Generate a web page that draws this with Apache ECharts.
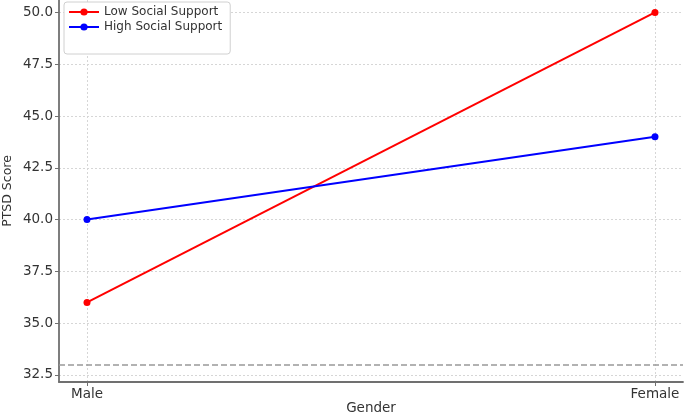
<!DOCTYPE html>
<html><head><meta charset="utf-8">
<script src="https://cdn.jsdelivr.net/npm/echarts@6/dist/echarts.min.js"></script>
<style>html,body{margin:0;padding:0;background:#fff}#c{width:685px;height:414px}</style>
</head><body><div id="c"></div>
<script>
const categories = ['Male', 'Female'];
const lowSupport = [36, 50];
const highSupport = [40, 44];
const referenceLine = 33;
const yTicks = [32.5, 35, 37.5, 40, 42.5, 45, 47.5, 50];
const xTicks = [0, 1];

const chart = echarts.init(document.getElementById('c'), null, {renderer: 'canvas'});
const font = 'DejaVu Sans';
const toPts = arr => arr.map((v, i) => [i, v]);
const gridStyle = {color: '#d6d6d6', type: [2, 2], width: 1};

chart.setOption({
  animation: false,
  backgroundColor: '#fff',
  textStyle: {fontFamily: font},
  grid: {left: 59, right: 2, top: 0, bottom: 32, containLabel: false, outerBoundsMode: 'none'},
  legend: {
    left: 64, top: 2, orient: 'vertical',
    backgroundColor: '#fff', borderColor: '#d0d0d0', borderWidth: 1, borderRadius: 3,
    padding: [3, 8, 20, 4], itemGap: 1, itemWidth: 30, itemHeight: 9,
    textStyle: {fontFamily: font, fontSize: 12, color: '#333', lineHeight: 14},
    data: ['Low Social Support', 'High Social Support']
  },
  xAxis: {
    type: 'value', min: -0.0493, max: 1.0493,
    name: 'Gender', nameLocation: 'middle', nameGap: 19, nameMoveOverlap: false,
    nameTextStyle: {fontFamily: font, fontSize: 13.5, color: '#333'},
    axisLine: {show: true, onZero: false, lineStyle: {color: '#707070', width: 1.8}},
    axisTick: {show: true, length: 4, customValues: xTicks, lineStyle: {color: '#707070'}},
    axisLabel: {customValues: xTicks, margin: 5, fontFamily: font, fontSize: 13.5, color: '#333',
      formatter: v => categories[Math.round(v)]},
    splitLine: {show: true, customValues: xTicks, lineStyle: gridStyle}
  },
  yAxis: {
    type: 'value', min: 32.16, max: 50.6,
    name: 'PTSD Score', nameLocation: 'middle', nameGap: 45, nameRotate: 90, nameMoveOverlap: false,
    nameTextStyle: {fontFamily: font, fontSize: 12.5, color: '#333'},
    axisLine: {show: true, onZero: false, lineStyle: {color: '#707070', width: 1.8}},
    axisTick: {show: true, length: 4, customValues: yTicks, lineStyle: {color: '#707070'}},
    axisLabel: {customValues: yTicks, margin: 6, fontFamily: font, fontSize: 13.5, color: '#333',
      formatter: v => v.toFixed(1)},
    splitLine: {show: true, customValues: yTicks, lineStyle: gridStyle}
  },
  series: [
    {
      name: 'Low Social Support', type: 'line', data: toPts(lowSupport),
      color: '#ff0000', symbol: 'circle', symbolSize: 7,
      lineStyle: {width: 2}, z: 3,
      markLine: {
        silent: true, symbol: 'none', label: {show: false},
        lineStyle: {color: '#999', type: [6, 3], width: 1.6},
        data: [{yAxis: referenceLine}]
      }
    },
    {
      name: 'High Social Support', type: 'line', data: toPts(highSupport),
      color: '#0000ff', symbol: 'circle', symbolSize: 7,
      lineStyle: {width: 2}, z: 3
    }
  ]
});
</script></body></html>
